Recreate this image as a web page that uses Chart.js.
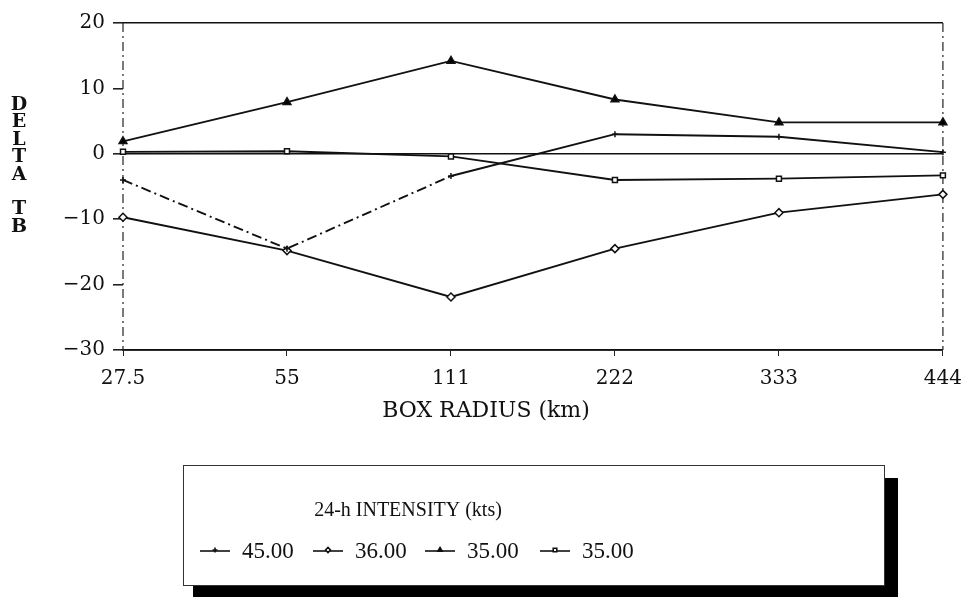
<!DOCTYPE html>
<html>
<head>
<meta charset="utf-8">
<title>DELTA TB vs box radius</title>
<script src="https://cdn.jsdelivr.net/npm/chart.js@4.4.1/dist/chart.umd.min.js"></script>
<style>
  body { margin: 0; background: #fff; }
</style>
</head>
<body>
<canvas id="myChart" width="973" height="597"></canvas>
<script>
// Box radius categories (km) and DELTA TB for each 24-h intensity group
const radii = ['27.5', '55', '111', '222', '333', '444'];
const intensityLabels = ['45.00', '36.00', '35.00', '35.00'];
const delta45 = [-4.0, -14.5, -3.4, 3.0, 2.6, 0.25];
const delta36 = [-9.7, -14.8, -21.9, -14.5, -9.0, -6.2];
const delta35a = [1.9, 7.9, 14.2, 8.3, 4.8, 4.8];
const delta35b = [0.3, 0.4, -0.4, -4.0, -3.8, -3.3];
const yMin = -30, yMax = 20, yStep = 10;

const ink = '#111';
const serif = '"DejaVu Serif", serif';

// frame sides, vertical axis title, horizontal axis title and the boxed legend
const decorations = {
    id: 'decorations',
    beforeDatasetsDraw(chart) {
        const { ctx, chartArea: a } = chart;
        ctx.save();
        ctx.strokeStyle = '#222';
        ctx.lineWidth = 1.2;
        ctx.setLineDash([9, 4, 2, 4]);
        [a.left, a.right].forEach(x => {
            ctx.beginPath();
            ctx.moveTo(x, a.top);
            ctx.lineTo(x, a.bottom);
            ctx.stroke();
        });
        ctx.restore();
    },
    afterDraw(chart) {
        const { ctx } = chart;
        ctx.save();
        ctx.fillStyle = ink;
        ctx.textAlign = 'center';
        ctx.textBaseline = 'middle';

        // stacked letters of DELTA TB
        ctx.font = 'bold 19px ' + serif;
        const letters = ['D', 'E', 'L', 'T', 'A', '', 'T', 'B'];
        letters.forEach((ch, i) => ctx.fillText(ch, 19, 105 + i * 17.4));

        ctx.font = '22px ' + serif;
        ctx.fillText('BOX RADIUS (km)', 486, 411);

        // legend box with its heavy shadow
        ctx.fillStyle = '#000';
        ctx.fillRect(885, 478, 13, 119);
        ctx.fillRect(193, 585, 705, 12);
        ctx.strokeStyle = '#333';
        ctx.lineWidth = 1;
        ctx.strokeRect(183.5, 465.5, 701, 120);

        ctx.fillStyle = ink;
        ctx.font = '20px "Liberation Serif", serif';
        ctx.fillText('24-h INTENSITY (kts)', 408, 511);

        const itemX = [200, 313, 425, 540];
        const y = 551;
        ctx.textAlign = 'left';
        ctx.font = '23px "Liberation Serif", serif';
        chart.data.datasets.forEach((ds, i) => {
            const x0 = itemX[i], x1 = x0 + 30;
            ctx.strokeStyle = ink;
            ctx.lineWidth = 1.6;
            ctx.beginPath();
            ctx.moveTo(x0, y);
            ctx.lineTo(x1, y);
            ctx.stroke();
            ctx.fillStyle = ds.pointBackgroundColor || '#fff';
            Chart.helpers.drawPoint(ctx, {
                pointStyle: ds.pointStyle, radius: 2.5, rotation: 0, borderWidth: 1.2
            }, (x0 + x1) / 2, y - 1);
            ctx.fillStyle = ink;
            ctx.fillText(ds.label, x1 + 12, y + 1);
        });
        ctx.restore();
    }
};

const common = {
    borderColor: ink,
    borderWidth: 1.9,
    pointBorderColor: ink,
    pointBorderWidth: 1.5,
    tension: 0,
    fill: false,
    clip: false
};

const ctx = document.getElementById('myChart').getContext('2d');
const myChart = new Chart(ctx, {
    type: 'line',
    data: {
        labels: radii,
        datasets: [
            {
                ...common, label: intensityLabels[0], data: delta45,
                pointStyle: 'cross', pointRadius: 3,
                segment: { borderDash: c => c.p0DataIndex < 2 ? [10, 4, 2, 4] : undefined }
            },
            {
                ...common, label: intensityLabels[1], data: delta36,
                pointStyle: 'rectRot', pointRadius: 4, pointBackgroundColor: '#fff'
            },
            {
                ...common, label: intensityLabels[2], data: delta35a,
                pointStyle: 'triangle', pointRadius: 4.5, pointBackgroundColor: '#000'
            },
            {
                ...common, label: intensityLabels[3], data: delta35b,
                pointStyle: 'rect', pointRadius: 3.5, pointBackgroundColor: '#fff'
            }
        ]
    },
    options: {
        responsive: false,
        animation: false,
        layout: { padding: { top: 23, right: 26, left: 0, bottom: 172 } },
        plugins: {
            legend: { display: false },
            tooltip: { enabled: false }
        },
        scales: {
            x: {
                type: 'category',
                offset: false,
                afterFit: s => { s.height = 75; },
                grid: { color: 'transparent', tickColor: '#222', tickLength: 6 },
                border: { display: true, color: ink, width: 1.8 },
                ticks: {
                    color: ink, padding: 11, maxRotation: 0, autoSkip: false,
                    font: { family: serif, size: 20 }
                }
            },
            y: {
                min: yMin,
                max: yMax,
                afterFit: s => { s.width = 123; },
                grid: {
                    color: c => [yMax, 0, yMin].includes(c.tick.value) ? ink : 'transparent',
                    lineWidth: 1.6,
                    tickColor: '#222',
                    tickLength: 10
                },
                border: { display: false },
                ticks: {
                    stepSize: yStep,
                    color: ink,
                    padding: 8,
                    font: { family: serif, size: 20 },
                    callback: v => v < 0 ? '\u2212' + Math.abs(v) : String(v)
                }
            }
        }
    },
    plugins: [decorations]
});
</script>
</body>
</html>
